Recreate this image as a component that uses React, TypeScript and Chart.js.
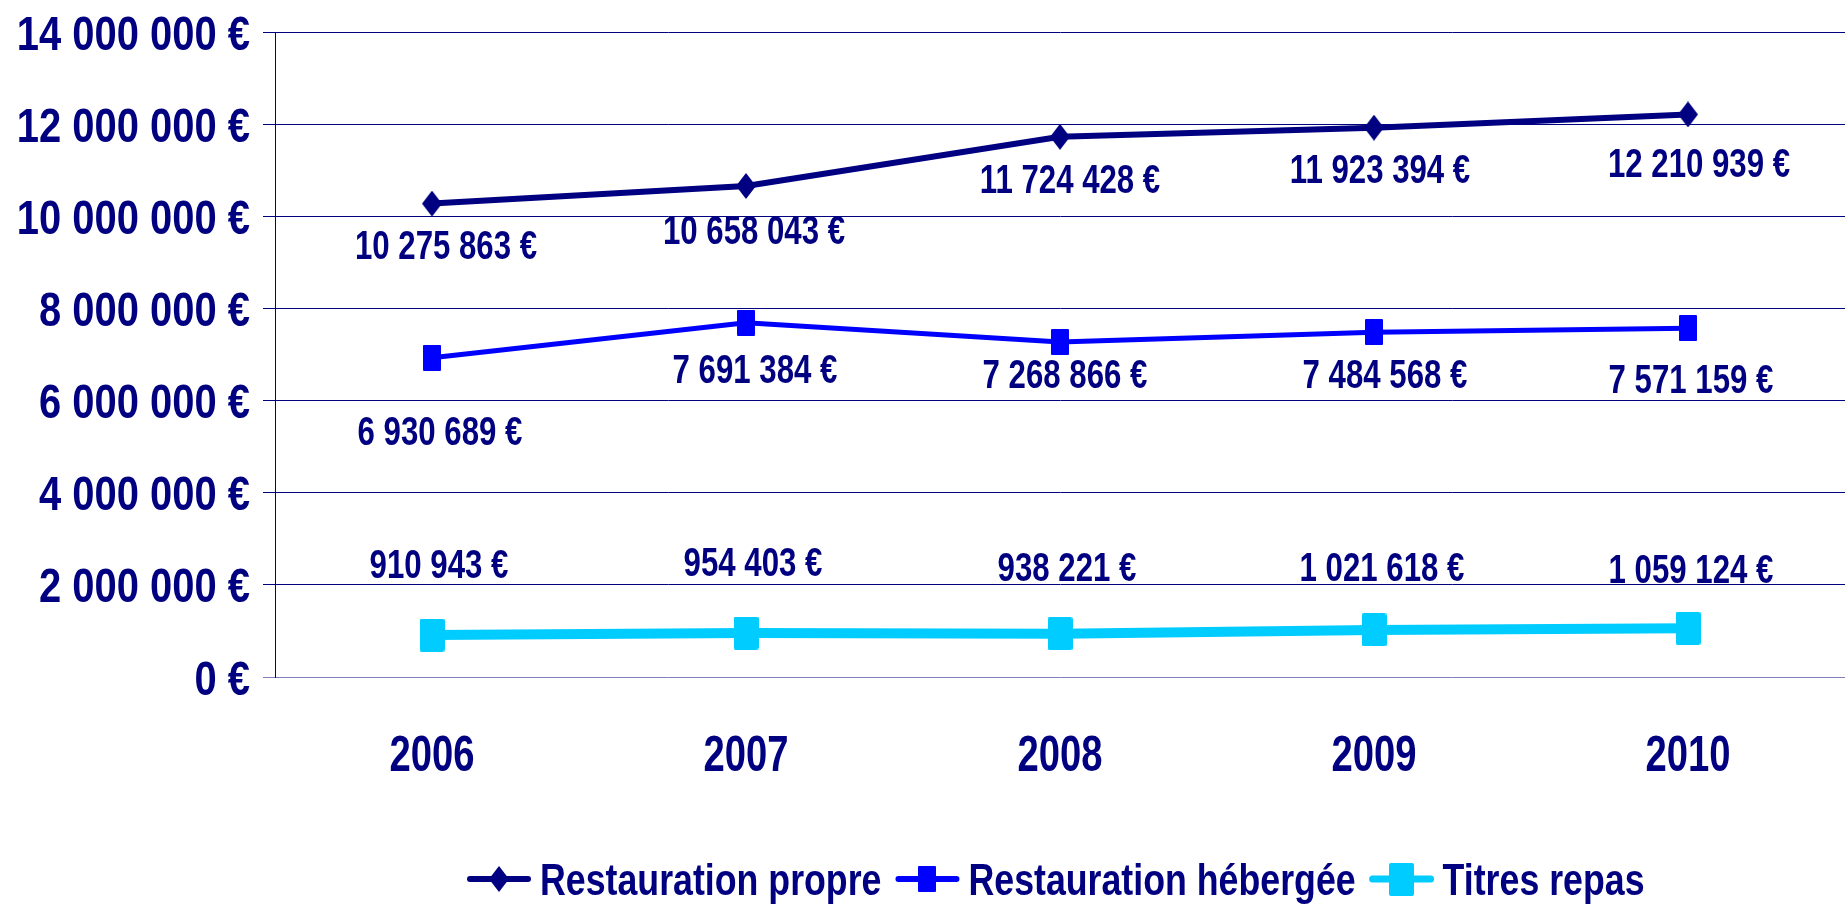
import React, { useEffect, useRef } from 'react';
import { Chart, registerables } from 'chart.js';

Chart.register(...registerables);

// ---------- data ----------
const years = ['2006', '2007', '2008', '2009', '2010'];
const restaurationPropre = [10275863, 10658043, 11724428, 11923394, 12210939];
const restaurationHebergee = [6930689, 7691384, 7268866, 7484568, 7571159];
const titresRepas = [910943, 954403, 938221, 1021618, 1059124];
const seriesNames = ['Restauration propre', 'Restauration hébergée', 'Titres repas'];
const yMin = 0;
const yMax = 14000000;
const yStep = 2000000;

// ---------- styling ----------
const NAVY = '#000080';
const FONT = "'Liberation Sans', Arimo, Arial, sans-serif";
const seriesColors = ['#000080', '#0000FF', '#00CCFF'];
const seriesLineWidths = [6, 5, 10];
const legendLineWidths = [6, 6, 7];
// text styles: font size (px), horizontal squeeze factor (narrow face look)
const Y_TICK = { size: 49, sx: 0.815 };
const X_TICK = { size: 50, sx: 0.765 };
const DATA_LABEL = { size: 40, sx: 0.78 };
const LEGEND = { size: 44, sx: 0.812 };
const CAP = 0.716;
// data label offsets (dx, dy of the label's visual centre relative to its point)
const labelDx = [
  [14, 8, 10, 6, 11],
  [8, 9, 5, 11, 3],
  [7, 7, 7, 8, 3],
];
const labelDy = [
  [41, 44, 42, 41, 48],
  [73, 46, 32, 42, 50],
  [-71, -71, -67, -63, -60],
];

function fmtEuro(v: number): string {
  const s = Math.round(v).toString().replace(/\B(?=(\d{3})+(?!\d))/g, ' ');
  return s + ' €';
}

function drawText(
  ctx: CanvasRenderingContext2D,
  text: string,
  x: number,
  centerY: number,
  align: CanvasTextAlign,
  style: { size: number; sx: number }
) {
  ctx.save();
  ctx.translate(x, centerY + (style.size * CAP) / 2);
  ctx.scale(style.sx, 1);
  ctx.font = `bold ${style.size}px ${FONT}`;
  ctx.fillStyle = NAVY;
  ctx.textAlign = align;
  ctx.textBaseline = 'alphabetic';
  ctx.fillText(text, 0, 0);
  ctx.restore();
}

function textWidth(ctx: CanvasRenderingContext2D, text: string, style: { size: number; sx: number }) {
  ctx.save();
  ctx.font = `bold ${style.size}px ${FONT}`;
  const w = ctx.measureText(text).width * style.sx;
  ctx.restore();
  return w;
}

function makeMarker(kind: 'diamond' | 'rect', w: number, h: number, color: string, r = 0) {
  const c = document.createElement('canvas');
  c.width = w;
  c.height = h;
  const ctx = c.getContext('2d')!;
  ctx.fillStyle = color;
  ctx.beginPath();
  if (kind === 'diamond') {
    ctx.moveTo(w / 2, 0);
    ctx.lineTo(w, h / 2);
    ctx.lineTo(w / 2, h);
    ctx.lineTo(0, h / 2);
    ctx.closePath();
  } else {
    ctx.moveTo(r, 0);
    ctx.lineTo(w - r, 0);
    ctx.quadraticCurveTo(w, 0, w, r);
    ctx.lineTo(w, h - r);
    ctx.quadraticCurveTo(w, h, w - r, h);
    ctx.lineTo(r, h);
    ctx.quadraticCurveTo(0, h, 0, h - r);
    ctx.lineTo(0, r);
    ctx.quadraticCurveTo(0, 0, r, 0);
    ctx.closePath();
  }
  ctx.fill();
  return c;
}

export default function App() {
  const ref = useRef<HTMLCanvasElement | null>(null);

  useEffect(() => {
    if (!ref.current) return;
    const markers = [
      makeMarker('diamond', 20, 26, seriesColors[0]),
      makeMarker('rect', 18, 26, seriesColors[1], 1),
      makeMarker('rect', 25, 33, seriesColors[2], 2),
    ];
    const seriesData = [restaurationPropre, restaurationHebergee, titresRepas];

    const axisLabelPlugin = {
      id: 'axisLabels',
      afterDraw(chart: any) {
        const ctx = chart.ctx;
        const ys = chart.scales.y;
        const xs = chart.scales.x;
        ys.ticks.forEach((t: any) => {
          drawText(ctx, fmtEuro(t.value), ys.right - 25, ys.getPixelForValue(t.value), 'right', Y_TICK);
        });
        xs.ticks.forEach((t: any, i: number) => {
          const label = chart.data.labels[t.value ?? i];
          drawText(ctx, String(label), xs.getPixelForTick(i), chart.chartArea.bottom + 76, 'center', X_TICK);
        });
      },
    };

    const dataLabelPlugin = {
      id: 'dataLabels',
      afterDatasetsDraw(chart: any) {
        const ctx = chart.ctx;
        chart.data.datasets.forEach((ds: any, i: number) => {
          const meta = chart.getDatasetMeta(i);
          meta.data.forEach((pt: any, j: number) => {
            drawText(ctx, fmtEuro(ds.data[j]), pt.x + labelDx[i][j], pt.y + labelDy[i][j], 'center', DATA_LABEL);
          });
        });
      },
    };

    const legendPlugin = {
      id: 'customLegend',
      afterDraw(chart: any) {
        const ctx = chart.ctx;
        const lineLen = 64;
        const gapAfterLine = 9;
        const gapItems = 14;
        const lineY = 879;
        let x = 467;
        seriesNames.forEach((name, i) => {
          ctx.save();
          ctx.strokeStyle = seriesColors[i];
          ctx.lineWidth = legendLineWidths[i];
          ctx.lineCap = 'round';
          ctx.beginPath();
          ctx.moveTo(x + 3, lineY);
          ctx.lineTo(x + lineLen - 3, lineY);
          ctx.stroke();
          const m = markers[i];
          ctx.drawImage(m, Math.round(x + lineLen / 2 - m.width / 2), Math.round(lineY - m.height / 2));
          ctx.restore();
          x += lineLen + gapAfterLine;
          drawText(ctx, name, x, 879, 'left', LEGEND);
          x += textWidth(ctx, name, LEGEND) + gapItems;
        });
      },
    };

    const chart = new Chart(ref.current, {
      type: 'line',
      data: {
        labels: years,
        datasets: seriesData.map((d, i) => ({
          label: seriesNames[i],
          data: d,
          borderColor: seriesColors[i],
          backgroundColor: seriesColors[i],
          borderWidth: seriesLineWidths[i],
          pointStyle: markers[i],
          pointRadius: 12,
          pointHoverRadius: 12,
          tension: 0,
          fill: false,
          clip: false,
        })),
      },
      options: {
        animation: false,
        responsive: false,
        devicePixelRatio: 1,
        layout: { autoPadding: false, padding: { top: 32, right: -4, bottom: 128, left: 0 } },
        plugins: {
          legend: { display: false },
          tooltip: { enabled: false },
          title: { display: false },
        },
        scales: {
          x: {
            type: 'category',
            offset: true,
            grid: { display: false, drawTicks: false },
            border: { display: false },
            ticks: { display: false },
            afterFit: (s: any) => {
              s.height = 101;
            },
          },
          y: {
            min: yMin,
            max: yMax,
            ticks: {
              display: false,
              stepSize: yStep,
            },
            grid: {
              color: (c: any) => (c.tick && c.tick.value === 0 ? '#7f7fbf' : NAVY),
              lineWidth: 1,
              drawTicks: true,
              tickLength: 12,
            },
            border: { display: true, color: NAVY, width: 1 },
            afterFit: (s: any) => {
              s.width = 275;
            },
          },
        },
      },
      plugins: [dataLabelPlugin, axisLabelPlugin, legendPlugin],
    });
    return () => chart.destroy();
  }, []);

  return (
    <div style={{ position: 'absolute', left: 0, top: 0, width: 1845, height: 906, background: '#fff' }}>
      <canvas ref={ref} width={1845} height={906} style={{ display: 'block', width: 1845, height: 906 }} />
    </div>
  );
}
